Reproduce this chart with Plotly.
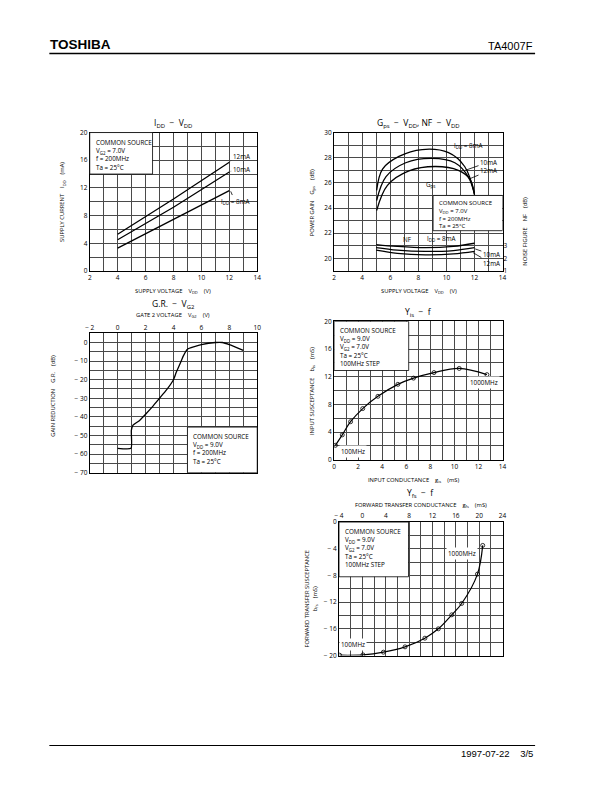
import plotly.graph_objects as go

W, H = 612, 792
def fx(p): return p / W
def fy(p): return 1 - p / H

FONT = "Open Sans"

# ---------------- data ----------------
idd_vdd = [4, 8, 12]
idd_8 = [3.3, 7.4, 11.6]
idd_10 = [4.5, 9.2, 14.3]
idd_12 = [5.3, 10.4, 15.7]

gps_vdd_8 = [5.03, 5.45, 6.62, 8.27, 10.15, 11.3, 12.0]
gps_8 = [25.4, 27.1, 28.1, 28.65, 28.4, 27.3, 25.15]
gps_vdd_10 = [5.03, 5.7, 7.1, 8.97, 10.6, 11.55, 12.0]
gps_10 = [24.6, 26.5, 27.6, 27.95, 27.6, 26.5, 25.1]
gps_vdd_12 = [5.03, 5.8, 7.33, 9.2, 10.85, 11.67, 12.0]
gps_12 = [23.8, 25.8, 26.95, 27.3, 27.0, 26.3, 25.05]

nf_vdd = [5, 6.5, 8.5, 10.5, 12]
nf_8 = [3.1, 2.95, 2.85, 2.95, 3.2]
nf_10 = [2.85, 2.65, 2.55, 2.62, 2.85]
nf_12 = [2.65, 2.4, 2.28, 2.35, 2.55]

gr_vg2 = [0, 0.96, 0.98, 1.1, 1.53, 2.05, 2.5, 3.0, 3.5, 4.0, 4.2, 4.5, 4.7, 5.0, 5.5, 6.0, 7.0, 7.5, 8.0, 9.0]
gr_db = [-56.9, -56.9, -47.3, -44.5, -42.2, -38.2, -34.5, -30, -25.5, -20, -16, -10.9, -7.3, -3.6, -2.2, -1.1, 0, 0, -1.1, -4.2]

yis_g = [0.11, 0.68, 1.37, 2.38, 3.64, 5.3, 6.6, 8.3, 10.4, 12.7]
yis_b = [2.09, 3.6, 5.5, 7.4, 9.17, 10.9, 11.8, 12.6, 13.2, 12.3]

yfs_g = [-3.9, 0.1, 3.6, 7.3, 10.7, 13.0, 15.3, 17.0, 19.7, 20.6]
yfs_b = [-19.95, -19.9, -19.5, -18.7, -17.4, -16.0, -13.9, -12.2, -7.8, -3.5]

# ---------------- figure ----------------
fig = go.Figure()
line = dict(color="black", width=1.3)

for ys in (idd_8, idd_10, idd_12):
    fig.add_trace(go.Scatter(x=idd_vdd, y=ys, mode="lines", line=line, xaxis="x", yaxis="y"))
for xs, ys in ((gps_vdd_8, gps_8), (gps_vdd_10, gps_10), (gps_vdd_12, gps_12)):
    fig.add_trace(go.Scatter(x=xs, y=ys, mode="lines", line=dict(color="black", width=1.3, shape="spline"),
                             xaxis="x2", yaxis="y2"))
for ys in (nf_8, nf_10, nf_12):
    fig.add_trace(go.Scatter(x=nf_vdd, y=ys, mode="lines", line=dict(color="black", width=1.3, shape="spline"),
                             xaxis="x2", yaxis="y6"))
fig.add_trace(go.Scatter(x=gr_vg2, y=gr_db, mode="lines",
                         line=dict(color="black", width=1.3, shape="spline", smoothing=0.5),
                         xaxis="x3", yaxis="y3"))
mk = dict(symbol="circle-open", size=4, color="black", line=dict(width=0.8))
fig.add_trace(go.Scatter(x=yis_g, y=yis_b, mode="lines+markers", marker=mk,
                         line=dict(color="black", width=1.2, shape="spline"), xaxis="x4", yaxis="y4"))
fig.add_trace(go.Scatter(x=yfs_g, y=yfs_b, mode="lines+markers", marker=mk,
                         line=dict(color="black", width=1.2, shape="spline"), xaxis="x5", yaxis="y5"))

GRID = "#4a4a4a"
tickfont = dict(family=FONT, size=6.5, color="black")

def ax(dom, rng, dtick, minor=None, **kw):
    d = dict(domain=dom, range=rng, dtick=dtick, tick0=0, showgrid=True, gridcolor=GRID, gridwidth=0.7,
             showline=True, linecolor="black", linewidth=1, mirror=True, zeroline=False,
             ticks="", tickfont=tickfont, fixedrange=True)
    if minor:
        d["minor"] = dict(dtick=minor, tick0=0, showgrid=True, gridcolor=GRID, gridwidth=0.7, ticks="")
    d.update(kw)
    return d

def neg(vals):
    return [("− " + str(abs(v))) if v < 0 else str(v) for v in vals]

fig.update_layout(
    width=W, height=H, margin=dict(l=0, r=0, t=0, b=0),
    paper_bgcolor="white", plot_bgcolor="white", showlegend=False,
    xaxis=ax([fx(86), fx(256)], [2, 14], 2, 1, anchor="y"),
    yaxis=ax([fy(269), fy(129)], [0, 20], 4, 2, anchor="x"),
    xaxis2=ax([fx(334), fx(505)], [2, 14], 2, 1, anchor="y2"),
    yaxis2=ax([fy(269), fy(129)], [19, 30], 2, 1, anchor="x2"),
    yaxis6=dict(overlaying="y2", side="right", range=[1, 12], tickvals=[1, 2, 3], showgrid=False,
                zeroline=False, showline=False, tickfont=tickfont, anchor="x2", fixedrange=True),
    xaxis3=ax([fx(86), fx(256)], [-2, 10], 2, 1, anchor="y3", side="top",
              tickvals=list(range(-2, 11, 2)), ticktext=neg(list(range(-2, 11, 2)))),
    yaxis3=ax([fy(473), fy(332)], [-70, 5], 10, 5, anchor="x3",
              tickvals=list(range(-70, 1, 10)), ticktext=neg(list(range(-70, 1, 10)))),
    xaxis4=ax([fx(334), fx(505)], [0, 14], 2, 1, anchor="y4"),
    yaxis4=ax([fy(460), fy(320)], [0, 20], 4, 2, anchor="x4"),
    xaxis5=ax([fx(339), fx(505)], [-4, 24], 4, 2, anchor="y5", side="top",
              tickvals=list(range(-4, 25, 4)), ticktext=neg(list(range(-4, 25, 4)))),
    yaxis5=ax([fy(658), fy(523)], [-20, 0], 4, 2, anchor="x5",
              tickvals=list(range(-20, 1, 4)), ticktext=neg(list(range(-20, 1, 4)))),
)

shapes = []
annots = []

def page_text(x, y, text, size=6.5, xanchor="center", angle=0, family=FONT):
    annots.append(dict(x=fx(x), y=fy(y), xref="paper", yref="paper", text=text, showarrow=False,
                       xanchor=xanchor, yanchor="middle", textangle=angle,
                       font=dict(family=family, size=size, color="black")))

def box(xr, yr, x0, x1, y0, y1, text, size=6.3, yshift=-3):
    shapes.append(dict(type="rect", xref=xr, yref=yr, x0=x0, x1=x1, y0=y0, y1=y1,
                       fillcolor="white", line=dict(color="black", width=0.8), layer="above"))
    annots.append(dict(x=x0, y=y1, xref=xr, yref=yr, text=text, showarrow=False, xanchor="left",
                       yanchor="top", align="left", xshift=4, yshift=yshift,
                       font=dict(family=FONT, size=size, color="black")))

def lab(xr, yr, x, y, text, head=None, bg=None, size=6.3):
    """Text centred at (x, y); optional leader line to the point `head`."""
    d = dict(xref=xr, yref=yr, text=text, font=dict(family=FONT, size=size, color="black"))
    if head is not None:
        d.update(x=head[0], y=head[1], showarrow=True, arrowhead=0, arrowwidth=0.8, arrowcolor="black",
                 axref=xr, ayref=yr, ax=x, ay=y, standoff=0)
    else:
        d.update(x=x, y=y, showarrow=False)
    if bg:
        d.update(bgcolor=bg, borderpad=1)
    annots.append(d)

# header / footer
page_text(44, 40, "<b>TOSHIBA</b>", size=13.5, xanchor="left", family="Liberation Sans")
page_text(538, 41, "TA4007F", size=11, xanchor="right", family="Liberation Sans")
shapes.append(dict(type="line", xref="paper", yref="paper", x0=fx(45), x1=fx(538), y0=fy(49), y1=fy(49),
                   line=dict(color="black", width=1.5)))
shapes.append(dict(type="line", xref="paper", yref="paper", x0=fx(45), x1=fx(538), y0=fy(749), y1=fy(749),
                   line=dict(color="black", width=1.2)))
page_text(538, 757, "1997-07-22    3/5", size=9.5, xanchor="right", family="Liberation Sans")

# chart 1
page_text(171, 120, "I<sub>DD</sub>  −  V<sub>DD</sub>", size=8.5)
page_text(171, 289, "SUPPLY VOLTAGE    V<sub>DD</sub>    (V)", size=5.8)
page_text(58, 199, "SUPPLY CURRENT    I<sub>DD</sub>    (mA)", size=5.8, angle=-90)
box("x", "y", 2, 6.5, 14, 20, "COMMON SOURCE<br>V<sub>G2</sub> = 7.0V<br>f = 200MHz<br>Ta = 25°C")
lab("x", "y", 12.85, 16.6, "12mA", head=(12.1, 15.9))
lab("x", "y", 12.85, 14.65, "10mA", head=(12.1, 14.4))
lab("x", "y", 12.4, 10.1, "I<sub>DD</sub> = 8mA", head=(12.1, 11.5))

# chart 2
page_text(420, 120, "G<sub>ps</sub>  −  V<sub>DD</sub>, NF  −  V<sub>DD</sub>", size=8.5)
page_text(420, 289, "SUPPLY VOLTAGE    V<sub>DD</sub>    (V)", size=5.8)
page_text(311, 200, "POWER GAIN    G<sub>ps</sub>    (dB)", size=5.8, angle=-90)
page_text(528, 229, "NOISE FIGURE    NF    (dB)", size=5.8, angle=-90)
box("x2", "y2", 9.05, 14, 22.2, 25, "COMMON SOURCE<br>V<sub>DD</sub> = 7.0V<br>f = 200MHz<br>Ta = 25°C",
    size=6.0, yshift=-2)
lab("x2", "y2", 11.55, 28.95, "I<sub>DD</sub> = 8mA")
lab("x2", "y2", 13.0, 27.65, "10mA", head=(11.35, 27.0))
lab("x2", "y2", 13.0, 26.95, "12mA", head=(11.6, 26.3))
lab("x2", "y2", 8.85, 25.9, "G<sub>ps</sub>")
lab("x2", "y2", 7.2, 21.5, "NF")
lab("x2", "y2", 9.6, 21.55, "I<sub>DD</sub> = 8mA")
lab("x2", "y2", 13.2, 20.3, "10mA", head=(12.05, 20.75))
lab("x2", "y2", 13.2, 19.6, "12mA", head=(11.9, 20.45))

# chart 3
page_text(171, 303, "G.R.  −  V<sub>G2</sub>", size=8.5)
page_text(171, 314, "GATE 2 VOLTAGE    V<sub>G2</sub>    (V)", size=5.8)
page_text(48, 395, "GAIN REDUCTION    G.R.    (dB)", size=5.8, angle=-90)
box("x3", "y3", 5.0, 10, -70, -45.5, "COMMON SOURCE<br>V<sub>DD</sub> = 9.0V<br>f = 200MHz<br>Ta = 25°C")

# chart 4
page_text(420, 311, "Y<sub>is</sub>  −  f", size=8.5)
page_text(415, 480, "INPUT CONDUCTANCE    g<sub>is</sub>    (mS)", size=5.8)
page_text(311, 390, "INPUT SUSCEPTANCE    b<sub>is</sub>    (mS)", size=5.8, angle=-90)
box("x4", "y4", 0, 6.2, 12.9, 20,
    "COMMON SOURCE<br>V<sub>DD</sub> = 9.0V<br>V<sub>G2</sub> = 7.0V<br>Ta = 25°C<br>100MHz STEP")
lab("x4", "y4", 12.45, 11.2, "1000MHz", bg="white")
lab("x4", "y4", 1.55, 1.2, "100MHz", bg="white")

# chart 5
page_text(422, 494, "Y<sub>fs</sub>  −  f", size=8.5)
page_text(422, 506, "FORWARD TRANSFER CONDUCTANCE    g<sub>fs</sub>    (mS)", size=5.8)
page_text(311, 600, "FORWARD TRANSFER SUSCEPTANCE<br>b<sub>fs</sub>    (mS)", size=5.8, angle=-90)
box("x5", "y5", -4, 7.9, -8.2, 0,
    "COMMON SOURCE<br>V<sub>DD</sub> = 9.0V<br>V<sub>G2</sub> = 7.0V<br>Ta = 25°C<br>100MHz STEP")
lab("x5", "y5", 17.0, -4.7, "1000MHz", bg="white")
lab("x5", "y5", -1.6, -18.3, "100MHz", bg="white")

fig.update_layout(shapes=shapes, annotations=annots)
fig.write_html("out.html")
